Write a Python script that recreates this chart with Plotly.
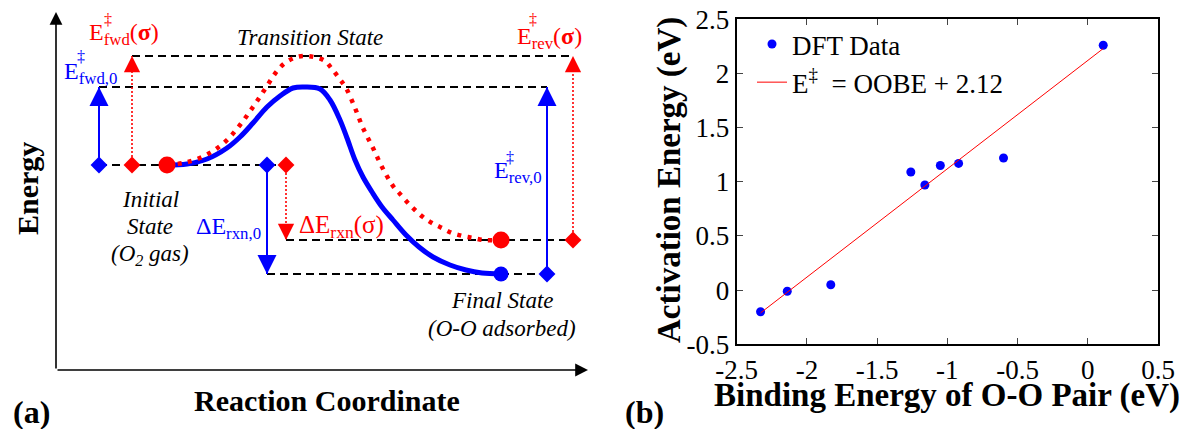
import plotly.graph_objects as go

W, H = 1182, 429
FONT = "Liberation Serif, Times New Roman, Times, serif"

# ---------------- Panel (b) data ----------------
oobe = [-2.33, -2.14, -1.83, -1.26, -1.16, -1.05, -0.92, -0.60, 0.11]
act_energy = [-0.20, -0.01, 0.05, 1.09, 0.97, 1.15, 1.17, 1.22, 2.26]
fit_x = [-2.33, 0.11]
fit_y = [-0.21, 2.23]
xb_ticks = [-2.5, -2, -1.5, -1, -0.5, 0, 0.5]
xb_ticktext = ["-2.5", "-2", "-1.5", "-1", "-0.5", "0", "0.5"]
yb_ticks = [-0.5, 0, 0.5, 1, 1.5, 2, 2.5]
yb_ticktext = ["-0.5", "0", "0.5", "1", "1.5", "2", "2.5"]

# ---------------- Panel (a) schematic data (arbitrary units) ----------------
blue_x = [11.1, 13.1, 15.1, 17.1, 18.4, 19.7, 21.1, 22.4, 23.7, 24.9, 26.4, 27.4, 28.4,
          29.1, 29.9, 30.7, 31.6, 32.6, 33.7, 35.0, 36.3, 37.7, 39.4, 41.0, 42.6, 44.5]
blue_y = [20.5, 20.6, 21.1, 22.2, 23.3, 24.7, 26.3, 27.4, 28.2, 28.3, 28.1, 27.0, 25.0,
          23.2, 21.0, 19.3, 17.8, 16.3, 15.0, 13.5, 12.3, 11.3, 10.5, 10.0, 9.7, 9.6]
red_x = [11.1, 13.2, 15.2, 17.0, 18.4, 19.7, 20.9, 22.1, 22.9, 23.8, 24.7, 25.8, 26.9,
         27.6, 28.3, 29.0, 29.9, 30.7, 31.7, 32.6, 33.7, 34.4, 35.2, 35.9, 36.7, 37.6,
         38.6, 39.6, 40.7, 41.7, 42.8, 44.5]
red_y = [20.5, 20.8, 21.6, 22.9, 24.5, 26.3, 28.1, 29.9, 30.7, 31.2, 31.4, 31.3, 30.9,
         30.1, 29.2, 28.2, 26.2, 24.2, 22.2, 20.3, 18.4, 17.6, 16.7, 16.0, 15.3, 14.7,
         14.2, 13.7, 13.4, 13.2, 13.0, 13.0]

E_init = 20.5        # initial state level
E_ts0 = 28.3         # transition state (no field)
E_ts_sig = 31.4      # transition state (with sigma)
E_fin_sig = 13.0     # final state (with sigma)
E_fin0 = 9.6         # final state (no field)

x_fwd0, x_fwd_sig = 4.3, 7.6
x_is, x_fs = 11.1, 44.5
x_rxn0, x_rxn_sig = 21.1, 23.0
x_rev0, x_rev_sig = 49.1, 51.7

XA_MAX, YA_MAX = 53.2, 35.8

BLUE = "#0000FF"
RED = "#FF0000"

fig = go.Figure()

def seg(x, y, color, width, dash, xa="x", ya="y"):
    fig.add_trace(go.Scatter(x=x, y=y, mode="lines", xaxis=xa, yaxis=ya,
                             line=dict(color=color, width=width, dash=dash),
                             showlegend=False, hoverinfo="skip"))

# dashed energy levels
DASH = "8px,5px"
seg([x_fwd_sig, x_rev_sig], [E_ts_sig, E_ts_sig], "black", 1.8, DASH)
seg([x_fwd0, x_rev0], [E_ts0, E_ts0], "black", 1.8, DASH)
seg([x_fwd0, x_rxn_sig], [E_init, E_init], "black", 1.8, DASH)
seg([x_rxn_sig, x_rev_sig], [E_fin_sig, E_fin_sig], "black", 1.8, DASH)
seg([x_rxn0, x_rev0], [E_fin0, E_fin0], "black", 1.8, DASH)

# arrow shafts
seg([x_fwd0, x_fwd0], [E_init, E_ts0], BLUE, 2, "solid")
seg([x_fwd_sig, x_fwd_sig], [E_init, E_ts_sig], RED, 1.6, "2px,2px")
seg([x_rxn0, x_rxn0], [E_init, E_fin0], BLUE, 2, "solid")
seg([x_rxn_sig, x_rxn_sig], [E_init, E_fin_sig], RED, 1.6, "2px,2px")
seg([x_rev0, x_rev0], [E_fin0, E_ts0], BLUE, 2, "solid")
seg([x_rev_sig, x_rev_sig], [E_fin_sig, E_ts_sig], RED, 1.6, "2px,2px")

# energy curves
fig.add_trace(go.Scatter(x=blue_x, y=blue_y, mode="lines", line=dict(color=BLUE, width=5, shape="spline"),
                         showlegend=False, hoverinfo="skip"))
fig.add_trace(go.Scatter(x=red_x, y=red_y, mode="lines",
                         line=dict(color=RED, width=4.5, shape="spline", dash="4px,6.5px"),
                         showlegend=False, hoverinfo="skip"))

# state circles
fig.add_trace(go.Scatter(x=[x_fs], y=[E_fin0], mode="markers", marker=dict(color=BLUE, size=15),
                         showlegend=False, hoverinfo="skip"))
fig.add_trace(go.Scatter(x=[x_is, x_fs], y=[E_init, E_fin_sig], mode="markers",
                         marker=dict(color=RED, size=17), showlegend=False, hoverinfo="skip"))
# diamonds
fig.add_trace(go.Scatter(x=[x_fwd0, x_rxn0, x_rev0], y=[E_init, E_init, E_fin0], mode="markers",
                         marker=dict(color=BLUE, size=13, symbol="diamond"), showlegend=False, hoverinfo="skip"))
fig.add_trace(go.Scatter(x=[x_fwd_sig, x_rxn_sig, x_rev_sig], y=[E_init, E_init, E_fin_sig], mode="markers",
                         marker=dict(color=RED, size=13, symbol="diamond"), showlegend=False, hoverinfo="skip"))

# ---------------- Panel (b) traces ----------------
fig.add_trace(go.Scatter(x=oobe, y=act_energy, mode="markers", xaxis="x2", yaxis="y2",
                         marker=dict(color=BLUE, size=9), name="DFT Data"))
fig.add_trace(go.Scatter(x=fit_x, y=fit_y, mode="lines", xaxis="x2", yaxis="y2",
                         line=dict(color=RED, width=1), name="E<sup>‡</sup>  = OOBE + 2.12"))

ann = []

def arrowhead(x, y, color, up, size=1.9, width=2):
    ann.append(dict(x=x, y=y, xref="x", yref="y", ax=0, ay=(12 if up else -12), text="",
                    showarrow=True, arrowhead=2, arrowsize=size, arrowwidth=width, arrowcolor=color))

arrowhead(x_fwd0, E_ts0, BLUE, True)
arrowhead(x_fwd_sig, E_ts_sig, RED, True, 1.8, 1.8)
arrowhead(x_rxn0, E_fin0, BLUE, False)
arrowhead(x_rxn_sig, E_fin_sig, RED, False, 1.8, 1.8)
arrowhead(x_rev0, E_ts0, BLUE, True)
arrowhead(x_rev_sig, E_ts_sig, RED, True, 1.8, 1.8)

# panel (a) axes arrows
ann.append(dict(x=0, y=YA_MAX, ax=0, ay=0, xref="x", yref="y", axref="x", ayref="y", text="",
                showarrow=True, arrowhead=2, arrowsize=1.6, arrowwidth=1.6, arrowcolor="black"))
ann.append(dict(x=XA_MAX, y=0, ax=0, ay=0, xref="x", yref="y", axref="x", ayref="y", text="",
                showarrow=True, arrowhead=2, arrowsize=1.6, arrowwidth=1.6, arrowcolor="black"))

def txt(x, y, s, color="black", size=23, xanchor="center", italic=False, ref=("x", "y"), bold=False, angle=0):
    ann.append(dict(x=x, y=y, xref=ref[0], yref=ref[1], text=s, showarrow=False,
                    xanchor=xanchor, yanchor="middle", textangle=angle,
                    font=dict(family=FONT, size=size, color=color,
                              style="italic" if italic else "normal",
                              weight="bold" if bold else "normal")))

txt(25.4, 33.3, "Transition State", italic=True)
txt(9.4, 17.1, "Initial", italic=True)
txt(9.4, 14.4, "State", italic=True)
txt(9.4, 11.5, "(O<sub>2</sub> gas)", italic=True)
txt(44.6, 7.0, "Final State", italic=True)
txt(44.6, 4.2, "(O-O adsorbed)", italic=True)

txt(3.1, 33.6, "E<sub>fwd</sub>(<b>σ</b>)", RED, 24, "left")
txt(5.2, 35.1, "‡", RED, 16)
txt(0.6, 29.7, "E<sub>fwd,0</sub>", BLUE, 24, "left")
txt(2.5, 31.4, "‡", BLUE, 16)
txt(45.9, 33.2, "E<sub>rev</sub>(<b>σ</b>)", RED, 24, "left")
txt(47.7, 35.1, "‡", RED, 16)
txt(43.6, 19.8, "E<sub>rev,0</sub>", BLUE, 24, "left")
txt(45.4, 21.3, "‡", BLUE, 16)
txt(20.7, 14.2, "ΔE<sub>rxn,0</sub>", BLUE, 24, "right")
txt(24.1, 14.4, "ΔE<sub>rxn</sub>(σ)", RED, 25, "left")

# axis titles and panel labels (paper coords)
P = ("paper", "paper")
txt(27 / W, 1 - 189 / H, "Energy", size=30, bold=True, ref=P, angle=-90)
txt(327 / W, 1 - 400 / H, "Reaction Coordinate", size=30, bold=True, ref=P)
txt(31 / W, 1 - 412 / H, "(a)", size=32, bold=True, ref=P)
txt(644 / W, 1 - 412 / H, "(b)", size=32, bold=True, ref=P)
txt(669 / W, 1 - 180 / H, "Activation Energy (eV)", size=33, bold=True, ref=P, angle=-90)
txt(947 / W, 1 - 395 / H, "Binding Energy of O-O Pair (eV)", size=33, bold=True, ref=P)

fig.update_layout(
    template="none",
    width=W, height=H, autosize=False,
    margin=dict(l=0, r=0, t=0, b=0, pad=0, autoexpand=False),
    paper_bgcolor="white", plot_bgcolor="white",
    font=dict(family=FONT, size=27, color="black"),
    xaxis=dict(domain=[56 / W, 588 / W], range=[0, XA_MAX], visible=False, fixedrange=True, automargin=False),
    yaxis=dict(domain=[1 - 370 / H, 1 - 12 / H], range=[0, YA_MAX], visible=False, fixedrange=True, automargin=False),
    xaxis2=dict(domain=[736.7 / W, 1158 / W], range=[-2.5, 0.5], anchor="y2", automargin=False,
                tickvals=xb_ticks, ticktext=xb_ticktext, ticks="inside", ticklen=6, tickwidth=1,
                showline=True, linewidth=2, linecolor="black", mirror="ticks", showgrid=False,
                zeroline=False, tickfont=dict(family=FONT, size=27)),
    yaxis2=dict(domain=[1 - 344.3 / H, 1 - 19.3 / H], range=[-0.5, 2.5], anchor="x2", automargin=False,
                tickvals=yb_ticks, ticktext=yb_ticktext, ticks="inside", ticklen=6, tickwidth=1,
                showline=True, linewidth=2, linecolor="black", mirror="ticks", showgrid=False,
                zeroline=False, tickfont=dict(family=FONT, size=27)),
    showlegend=True,
    legend=dict(x=752 / W, y=1 - 20 / H, xanchor="left", yanchor="top", bgcolor="rgba(0,0,0,0)",
                font=dict(family=FONT, size=27), borderwidth=0, tracegroupgap=0),
    annotations=ann,
)

fig.write_html("out.html", config={"displayModeBar": False},
               post_script="document.body.style.margin='0';document.body.style.overflow='hidden';")
